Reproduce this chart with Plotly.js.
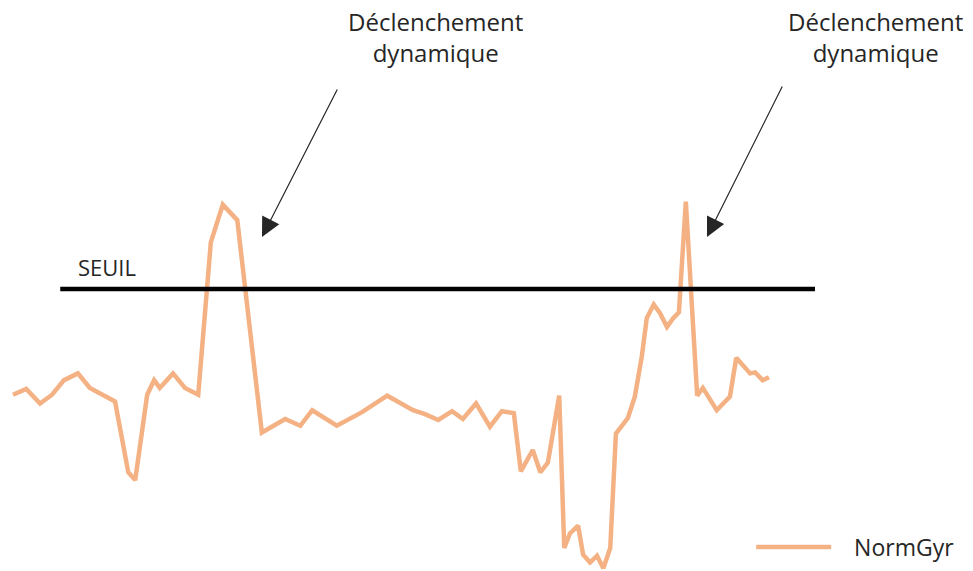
<!DOCTYPE html>
<html>
<head>
<meta charset="utf-8">
<script src="https://cdn.plot.ly/plotly-3.0.1.min.js"></script>
<style>
html,body{margin:0;padding:0;background:#fff;}
#chart{width:973px;height:571px;}
</style>
</head>
<body>
<div id="chart"></div>
<script>
// Sample index (time) and NormGyr values
const sampleT = [0, 2.1, 4.3, 6.2, 8.1, 10.3, 12.2, 14.1, 16.2, 18.3, 19.4, 21.3, 22.4, 23.3, 25.4, 27.3, 29.4,
  31.4, 33.3, 35.6, 39.5, 43.2, 45.6, 47.5, 51.4, 55.4, 59.4, 63.5, 65.4, 67.5, 69.7, 71.4, 73.5, 75.7, 77.6, 79.5,
  80.6, 82.5, 83.7, 84.9, 86.7, 87.5, 88.4, 89.7, 90.5, 91.6, 92.7, 93.7, 94.8, 95.7, 96.5, 97.6, 98.7, 99.8,
  100.6, 101.7, 102.7, 103.8, 104.8, 105.7, 106.8, 108.6, 109.5, 111.7, 113.8, 114.8, 117.0, 117.8, 119.0, 120.0];
const normGyr = [1.91, 1.97, 1.82, 1.91, 2.06, 2.13, 1.98, 1.91, 1.84, 1.11, 1.03, 1.91, 2.06, 1.98, 2.13, 1.98, 1.91,
  3.48, 3.87, 3.71, 1.52, 1.66, 1.59, 1.75, 1.59, 1.73, 1.90, 1.75, 1.71, 1.65, 1.74, 1.66, 1.82, 1.58, 1.74, 1.72,
  1.12, 1.34, 1.11, 1.21, 1.90, 0.33, 0.48, 0.56, 0.26, 0.18, 0.25, 0.12, 0.33, 1.51, 1.58, 1.67, 1.89, 2.30,
  2.70, 2.84, 2.75, 2.61, 2.70, 2.76, 3.90, 1.90, 1.98, 1.75, 1.89, 2.29, 2.13, 2.14, 2.06, 2.09];
const seuilT = [7.5, 127.3];
const seuilValue = [3.0, 3.0];
const seriesName = 'NormGyr';
const seuilLabel = 'SEUIL';
const eventLabel = 'Déclenchement<br>dynamique';

const font = 'Open Sans, sans-serif';

const traces = [
  {x: sampleT, y: normGyr, type: 'scatter', mode: 'lines', name: '\u00a0\u00a0\u00a0' + seriesName,
   line: {color: '#F4B183', width: 4.5}},
  {x: seuilT, y: seuilValue, type: 'scatter', mode: 'lines', name: seuilLabel, showlegend: false,
   line: {color: '#000000', width: 4.5}}
];

const layout = {
  width: 973, height: 571,
  margin: {l: 0, r: 0, t: 0, b: 0},
  paper_bgcolor: '#ffffff', plot_bgcolor: '#ffffff',
  font: {family: font, size: 22, color: '#262626'},
  xaxis: {range: [-2.063, 152.38], visible: false, fixedrange: true},
  yaxis: {range: [0.0928, 5.979], visible: false, fixedrange: true},
  showlegend: true,
  legend: {x: 0.772, y: 0.042, xanchor: 'left', yanchor: 'middle', bgcolor: 'rgba(0,0,0,0)',
           font: {family: font, size: 23, color: '#262626'}, itemwidth: 75},
  annotations: [
    {xref: 'paper', yref: 'paper', x: 435/973, y: 1 - 37/571, text: eventLabel, showarrow: false,
     xanchor: 'center', yanchor: 'middle', font: {family: font, size: 24, color: '#262626'}},
    {xref: 'paper', yref: 'paper', x: 875/973, y: 1 - 37/571, text: eventLabel, showarrow: false,
     xanchor: 'center', yanchor: 'middle', font: {family: font, size: 24, color: '#262626'}},
    {xref: 'paper', yref: 'paper', x: 107/973, y: 1 - 267/571, text: seuilLabel, showarrow: false,
     xanchor: 'center', yanchor: 'middle', font: {family: font, size: 22, color: '#262626'}},
    {xref: 'paper', yref: 'paper', x: 262/973, y: 1 - 237/571, text: '', showarrow: true,
     ax: 76, ay: -149, arrowhead: 2, arrowsize: 3.2, arrowwidth: 1.2, arrowcolor: '#262626', standoff: 0},
    {xref: 'paper', yref: 'paper', x: 707/973, y: 1 - 237/571, text: '', showarrow: true,
     ax: 76, ay: -152, arrowhead: 2, arrowsize: 3.2, arrowwidth: 1.2, arrowcolor: '#262626', standoff: 0}
  ]
};

Plotly.newPlot('chart', traces, layout, {displayModeBar: false, staticPlot: true});
</script>
</body>
</html>
